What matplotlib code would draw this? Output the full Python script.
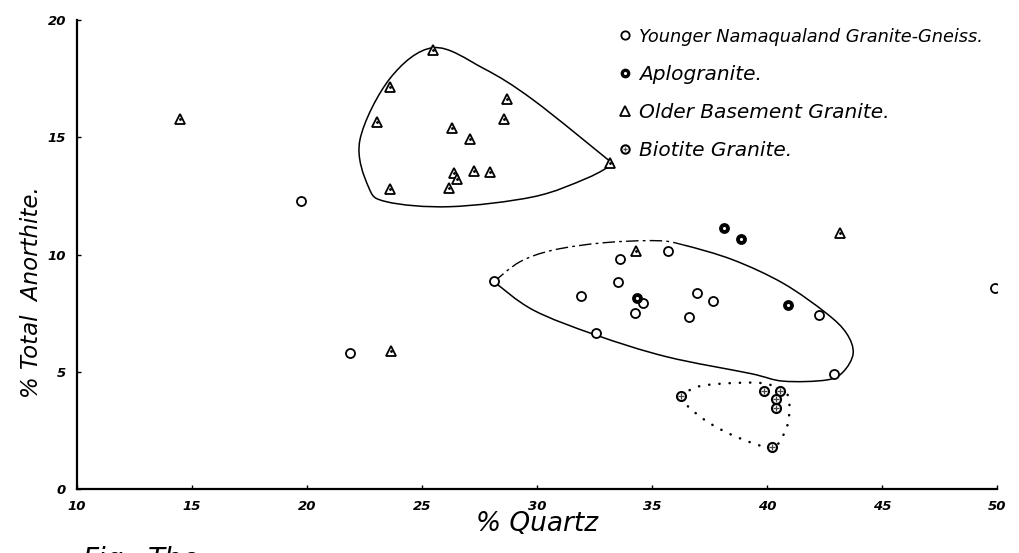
import numpy as np
import matplotlib
matplotlib.use('Agg')
import matplotlib.pyplot as plt
from matplotlib.path import Path
from matplotlib.patches import PathPatch
from matplotlib.lines import Line2D

plt.rcParams['font.family'] = ['DejaVu Sans']
plt.rcParams['font.style'] = 'italic'

# --- data (% quartz, % total anorthite) ---
younger_x = [19.74, 21.87, 28.13, 31.91, 32.55, 33.61, 33.53, 34.62, 34.25,
             35.68, 36.94, 37.64, 36.62, 42.25, 42.91, 49.90]
younger_y = [12.28, 5.81, 8.86, 8.22, 6.65, 9.81, 8.84, 7.92, 7.49,
             10.16, 8.34, 8.03, 7.32, 7.42, 4.90, 8.57]

aplo_x = [38.14, 38.86, 34.33, 40.93]
aplo_y = [11.14, 10.66, 8.16, 7.85]

older_x = [14.48, 25.49, 23.61, 23.03, 23.61, 26.29, 27.09, 28.68, 28.58,
           26.40, 26.51, 26.19, 27.26, 27.96, 33.17, 23.64, 34.29, 43.17]
older_y = [15.78, 18.72, 17.16, 15.66, 12.78, 15.41, 14.93, 16.63, 15.77,
           13.46, 13.22, 12.82, 13.57, 13.53, 13.89, 5.90, 10.15, 10.90]

biotite_x = [36.26, 39.88, 40.57, 40.38, 40.38, 40.22]
biotite_y = [3.98, 4.19, 4.19, 3.82, 3.44, 1.80]

# field boundaries drawn by hand on the diagram
older_field_x = [33.32, 29.84, 27.67, 25.49, 23.61, 22.30, 22.67, 23.46,
                 26.22, 29.84, 32.16, 33.32]
older_field_y = [13.86, 16.59, 17.94, 18.82, 17.51, 14.88, 12.89, 12.25,
                 12.04, 12.46, 13.25, 13.86]

younger_field_x = [28.13, 29.26, 30.71, 32.88, 35.20, 36.36, 38.53, 40.71,
                   42.59, 43.46, 43.75, 43.32, 42.60, 40.71, 39.26, 35.64,
                   32.55, 29.84, 28.13]
younger_field_y = [8.84, 9.69, 10.19, 10.50, 10.59, 10.41, 9.77, 8.77,
                   7.49, 6.64, 5.79, 5.00, 4.65, 4.60, 4.93, 5.64,
                   6.57, 7.63, 8.84]
dashed_part = 5  # first segments of the younger field are dash-dot

biotite_field_x = [36.26, 37.09, 38.83, 39.99, 40.86, 40.97, 40.78, 40.22,
                   38.83, 37.52, 36.58, 36.26]
biotite_field_y = [3.98, 4.39, 4.53, 4.48, 4.08, 3.23, 2.44, 1.78,
                   2.16, 2.80, 3.51, 3.98]

x_ticks = [10, 15, 20, 25, 30, 35, 40, 45, 50]
y_ticks = [0, 5, 10, 15, 20]


def smooth_path(xs, ys, start=0, stop=None):
    # Catmull-Rom through the points, drawn as cubic bezier pieces
    pts = np.column_stack([xs, ys])
    ext = np.vstack([pts[0], pts, pts[-1]])
    if stop is None:
        stop = len(pts) - 1
    verts = [pts[start]]
    codes = [Path.MOVETO]
    for i in range(start, stop):
        p0, p1, p2, p3 = ext[i], ext[i + 1], ext[i + 2], ext[i + 3]
        verts += [p1 + (p2 - p0) / 6, p2 - (p3 - p1) / 6, p2]
        codes += [Path.CURVE4] * 3
    return Path(verts, codes)


fig = plt.figure(figsize=(10.19, 5.53), dpi=100)
ax = fig.add_axes([0.0756, 0.1157, 0.9027, 0.8481])

# field outlines
ax.add_patch(PathPatch(smooth_path(older_field_x, older_field_y),
                       fill=False, lw=1.1, color='black'))
ax.add_patch(PathPatch(smooth_path(younger_field_x, younger_field_y, 0, dashed_part),
                       fill=False, lw=1.0, color='black', linestyle=(0, (9, 3, 2, 3))))
ax.add_patch(PathPatch(smooth_path(younger_field_x, younger_field_y, dashed_part),
                       fill=False, lw=1.1, color='black'))
ax.add_patch(PathPatch(smooth_path(biotite_field_x, biotite_field_y),
                       fill=False, lw=1.8, color='black', linestyle=(0, (0.1, 4)),
                       capstyle='round'))

# points
ax.plot(younger_x, younger_y, 'o', ms=6.5, mfc='white', mec='black', mew=1.3)
ax.plot(aplo_x, aplo_y, 'o', ms=6.5, mfc='black', mec='black', mew=1.3)
ax.plot(aplo_x, aplo_y, '.', ms=2.5, color='white')
ax.plot(older_x, older_y, '^', ms=7.5, mfc='white', mec='black', mew=1.3)
ax.plot(older_x, older_y, '.', ms=2, color='black')
ax.plot(biotite_x, biotite_y, 'o', ms=6.5, mfc='white', mec='black', mew=1.5)
ax.plot(biotite_x, biotite_y, '+', ms=4, color='#444444', mew=0.9)

ax.set_xlim(10, 50)
ax.set_ylim(0, 20)
ax.set_xticks(x_ticks)
ax.set_yticks(y_ticks)
for side in ['top', 'right']:
    ax.spines[side].set_visible(False)
ax.spines['left'].set_linewidth(1.6)
ax.spines['bottom'].set_linewidth(1.6)
ax.tick_params(direction='in', length=3, width=1, labelsize=9.5, pad=8)
for lab in ax.get_xticklabels() + ax.get_yticklabels():
    lab.set_fontweight('bold')
    lab.set_fontstyle('italic')

ax.set_xlabel('% Quartz', fontsize=19)
ax.xaxis.set_label_coords(0.5, -0.047)
ax.set_ylabel('% Total  Anorthite.', fontsize=16.5)
ax.yaxis.set_label_coords(-0.037, 0.42)

handles = [
    Line2D([], [], ls='none', marker='o', ms=6, mfc='white', mec='black', mew=1.3),
    (Line2D([], [], ls='none', marker='o', ms=6, mfc='black', mec='black'),
     Line2D([], [], ls='none', marker='.', ms=2.5, color='white')),
    Line2D([], [], ls='none', marker='^', ms=7, mfc='white', mec='black', mew=1.3),
    (Line2D([], [], ls='none', marker='o', ms=6, mfc='white', mec='black', mew=1.5),
     Line2D([], [], ls='none', marker='+', ms=3.5, color='#444444', mew=0.9)),
]
labels = ['Younger Namaqualand Granite-Gneiss.', 'Aplogranite.',
          'Older Basement Granite.', 'Biotite Granite.']
leg = ax.legend(handles, labels, loc='upper left', bbox_to_anchor=(0.579, 1.0),
                frameon=False, fontsize=14.5, handlelength=0.7, handletextpad=0.35,
                labelspacing=0.94, borderaxespad=0)
leg.get_texts()[0].set_fontsize(12.8)

# caption below the figure, cut by the bottom edge as in the scan
fig.text(82 / 1019, 1 - 546 / 553, 'Fig.', fontsize=20, va='top')
fig.text(148 / 1019, 1 - 546 / 553, 'The', fontsize=20, va='top')

fig.savefig('out.png', dpi=100)
